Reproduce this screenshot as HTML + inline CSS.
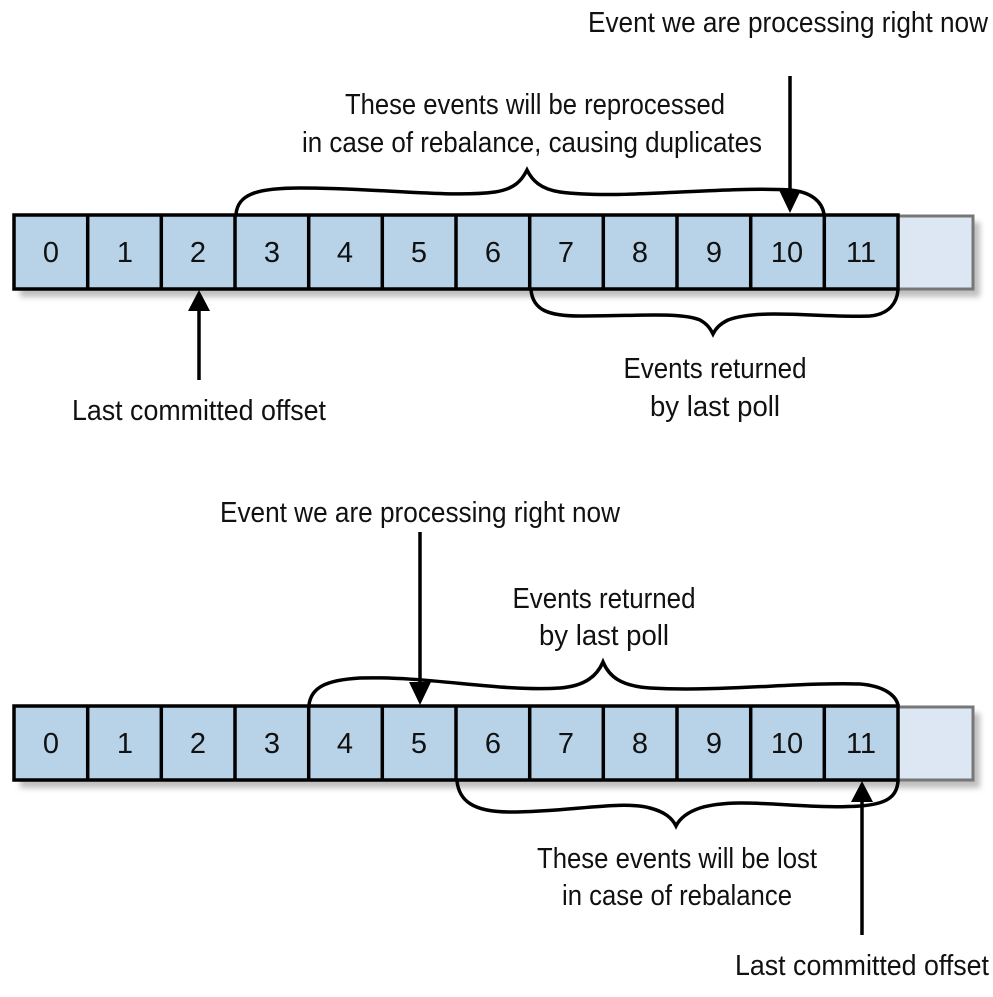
<!DOCTYPE html>
<html><head><meta charset="utf-8"><style>
html,body{margin:0;padding:0;background:#fff;}
svg{display:block}
text{font-family:"Liberation Sans Narrow","Liberation Sans",sans-serif;font-size:29px;fill:#111;}
</style></head><body>
<svg width="993" height="997" viewBox="0 0 993 997" xmlns="http://www.w3.org/2000/svg">
<defs>
<filter id="sh" x="-5%" y="-20%" width="110%" height="160%"><feGaussianBlur stdDeviation="3"/></filter>
</defs>
<!-- Top row -->
<rect x="20" y="222" width="960" height="75" fill="#000" opacity="0.25" filter="url(#sh)"/>
<rect x="898" y="216" width="75" height="73" fill="#dce7f3" stroke="#777" stroke-width="3"/>
<g stroke="#000" stroke-width="3.5" fill="#b8d3e8">
<rect x="14" y="215" width="884" height="74"/>
</g>
<g stroke="#000" stroke-width="3.5">
<line x1="87.7" y1="215" x2="87.7" y2="289"/><line x1="161.3" y1="215" x2="161.3" y2="289"/><line x1="235" y1="215" x2="235" y2="289"/><line x1="308.7" y1="215" x2="308.7" y2="289"/><line x1="382.3" y1="215" x2="382.3" y2="289"/><line x1="456" y1="215" x2="456" y2="289"/><line x1="529.7" y1="215" x2="529.7" y2="289"/><line x1="603.3" y1="215" x2="603.3" y2="289"/><line x1="677" y1="215" x2="677" y2="289"/><line x1="750.7" y1="215" x2="750.7" y2="289"/><line x1="824.3" y1="215" x2="824.3" y2="289"/>
</g>
<g text-anchor="middle">
<text x="51" y="262">0</text><text x="125" y="262">1</text><text x="198" y="262">2</text><text x="272" y="262">3</text><text x="345" y="262">4</text><text x="419" y="262">5</text><text x="493" y="262">6</text><text x="566" y="262">7</text><text x="640" y="262">8</text><text x="714" y="262">9</text><text x="787" y="262">10</text><text x="861" y="262">11</text>
</g>
<!-- Bottom row -->
<rect x="20" y="713" width="960" height="75" fill="#000" opacity="0.25" filter="url(#sh)"/>
<rect x="898" y="707" width="75" height="73" fill="#dce7f3" stroke="#777" stroke-width="3"/>
<rect x="14" y="706" width="884" height="74" fill="#b8d3e8" stroke="#000" stroke-width="3.5"/>
<g stroke="#000" stroke-width="3.5">
<line x1="87.7" y1="706" x2="87.7" y2="780"/><line x1="161.3" y1="706" x2="161.3" y2="780"/><line x1="235" y1="706" x2="235" y2="780"/><line x1="308.7" y1="706" x2="308.7" y2="780"/><line x1="382.3" y1="706" x2="382.3" y2="780"/><line x1="456" y1="706" x2="456" y2="780"/><line x1="529.7" y1="706" x2="529.7" y2="780"/><line x1="603.3" y1="706" x2="603.3" y2="780"/><line x1="677" y1="706" x2="677" y2="780"/><line x1="750.7" y1="706" x2="750.7" y2="780"/><line x1="824.3" y1="706" x2="824.3" y2="780"/>
</g>
<g text-anchor="middle">
<text x="51" y="753">0</text><text x="125" y="753">1</text><text x="198" y="753">2</text><text x="272" y="753">3</text><text x="345" y="753">4</text><text x="419" y="753">5</text><text x="493" y="753">6</text><text x="566" y="753">7</text><text x="640" y="753">8</text><text x="714" y="753">9</text><text x="787" y="753">10</text><text x="861" y="753">11</text>
</g>
<!-- Braces -->
<g fill="none" stroke="#000" stroke-width="3.5" stroke-linecap="round">
<path d="M236,214 C238,195 255,188 300,188 C380,188 450,198 495,192 C515,189 522,180 527,170 C532,180 540,189 560,192 C620,200 720,186 790,190 C812,192 822,202 824,214"/>
<path d="M531,290 C533,310 548,316 580,316 C640,316 680,312 700,320 C707,324 710,328 713,334 C716,328 720,324 728,320 C760,308 820,318 870,316 C890,314 897,302 898,290"/>
<path d="M309,705 C311,688 325,680 360,678 C430,676 500,692 560,688 C585,686 597,676 603,662 C609,676 620,686 650,688 C720,692 800,682 860,684 C885,686 896,696 898,705"/>
<path d="M457,781 C459,800 472,812 510,812 C570,812 620,800 650,808 C665,812 672,818 676,826 C680,818 688,812 700,808 C740,796 800,810 860,806 C888,804 897,796 898,781"/>
</g>
<!-- Arrows -->
<g stroke="#000" stroke-width="3.5">
<line x1="790" y1="76" x2="790" y2="196"/>
<line x1="199" y1="306" x2="199" y2="380"/>
<line x1="420" y1="532" x2="420" y2="686"/>
<line x1="862" y1="796" x2="862" y2="935"/>
</g>
<g fill="#000">
<polygon points="779,190 801,190 790,213"/>
<polygon points="188,311 210,311 199,290"/>
<polygon points="409,682 431,682 420,705"/>
<polygon points="851,802 873,802 862,781"/>
</g>
<!-- Labels -->
<text x="588" y="32" textLength="400" lengthAdjust="spacingAndGlyphs">Event we are processing right now</text>
<text x="535" y="114" text-anchor="middle" textLength="380" lengthAdjust="spacingAndGlyphs">These events will be reprocessed</text>
<text x="532" y="152" text-anchor="middle" textLength="460" lengthAdjust="spacingAndGlyphs">in case of rebalance, causing duplicates</text>
<text x="715" y="378" text-anchor="middle" textLength="183" lengthAdjust="spacingAndGlyphs">Events returned</text>
<text x="715" y="416" text-anchor="middle" textLength="130" lengthAdjust="spacingAndGlyphs">by last poll</text>
<text x="72" y="420" textLength="254" lengthAdjust="spacingAndGlyphs">Last committed offset</text>
<text x="220" y="522" textLength="400" lengthAdjust="spacingAndGlyphs">Event we are processing right now</text>
<text x="604" y="608" text-anchor="middle" textLength="183" lengthAdjust="spacingAndGlyphs">Events returned</text>
<text x="604" y="645" text-anchor="middle" textLength="130" lengthAdjust="spacingAndGlyphs">by last poll</text>
<text x="677" y="868" text-anchor="middle" textLength="280" lengthAdjust="spacingAndGlyphs">These events will be lost</text>
<text x="677" y="905" text-anchor="middle" textLength="230" lengthAdjust="spacingAndGlyphs">in case of rebalance</text>
<text x="735" y="975" textLength="254" lengthAdjust="spacingAndGlyphs">Last committed offset</text>
</svg>
</body></html>
